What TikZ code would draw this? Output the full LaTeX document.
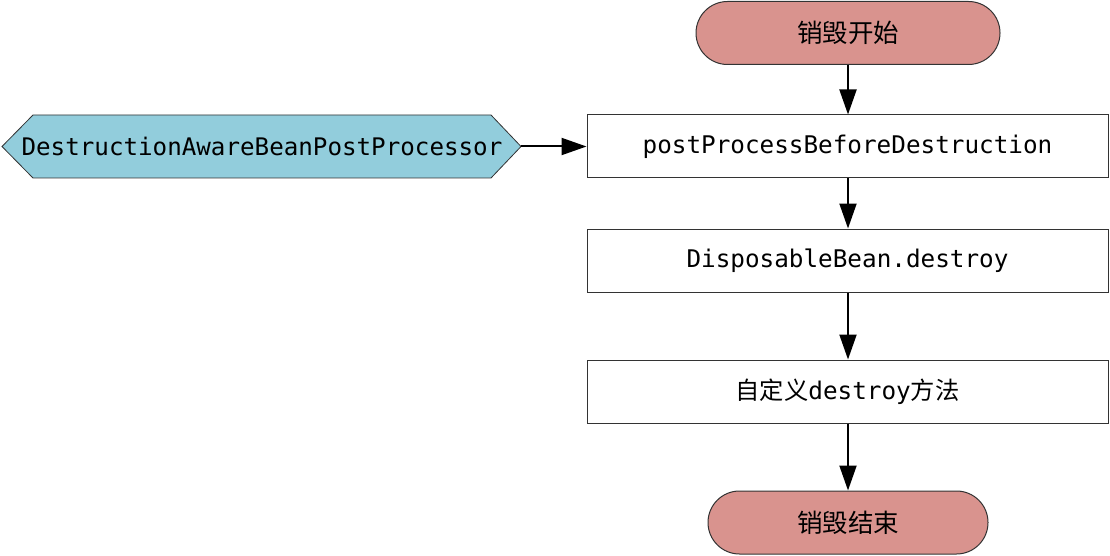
\documentclass[tikz,border=0pt]{standalone}
\usepackage{fontspec}
\setmonofont{DejaVu Sans Mono}
\newfontfamily\cjk{Noto Sans CJK SC}
\usetikzlibrary{arrows.meta,backgrounds}
\definecolor{pillred}{HTML}{D9938E}
\definecolor{hexblue}{HTML}{92CDDC}
\definecolor{edgegray}{HTML}{333333}
\tikzset{
  pill/.style={rectangle, rounded corners=31.5pt, draw=edgegray, line width=1pt, fill=pillred,
    minimum height=63pt, inner sep=0pt, font=\cjk\fontsize{25.5}{30}\selectfont},
  stepbox/.style={rectangle, draw=edgegray, line width=1pt, fill=white,
    minimum width=521pt, minimum height=63pt, inner sep=0pt, font=\ttfamily\fontsize{24.3}{28}\selectfont},
  hextext/.style={rectangle, inner sep=0pt, font=\ttfamily\fontsize{24.2}{28}\selectfont},
  hexshape/.style={draw=edgegray, line width=0.8pt, fill=hexblue},
  flow/.style={line width=2pt, -{Triangle[length=25pt,width=17pt]}}
}
\begin{document}
\begin{tikzpicture}[x=1pt,y=-1pt]
\useasboundingbox (0,0) rectangle (1110,556);
\node[pill, minimum width=304pt] (start) at (848,33) {销毁开始};
\node[stepbox] (ppbd) at (847.5,146.5) {postProcessBeforeDestruction};
\node[stepbox] (disp) at (847.5,260.5) {DisposableBean.destroy};
\node[stepbox] (custom) at (847.5,391.5) {{\cjk 自定义}destroy{\cjk 方法}};
\node[pill, minimum width=280pt] (end) at (848,522.5) {销毁结束};
\node[hextext] (dabpp) at (262,146.5) {DestructionAwareBeanPostProcessor};
\coordinate (tipW) at (2,146.5);
\coordinate (tipE) at (521,146.5);
\coordinate (hNW) at (33,115);
\coordinate (hNE) at (491,115);
\coordinate (hSE) at (491,178);
\coordinate (hSW) at (33,178);
\begin{pgfonlayer}{background}
\draw[hexshape] (tipW) -- (hNW) -- (hNE) -- (tipE) -- (hSE) -- (hSW) -- cycle;
\end{pgfonlayer}
\draw[flow] (start.south) -- (start.south |- ppbd.north);
\draw[flow] (ppbd.south -| start.south) -- (start.south |- disp.north);
\draw[flow] (disp.south -| start.south) -- (start.south |- custom.north);
\draw[flow] (custom.south -| start.south) -- (end.north);
\draw[flow] (tipE) -- (ppbd.west);
\end{tikzpicture}
\end{document}
